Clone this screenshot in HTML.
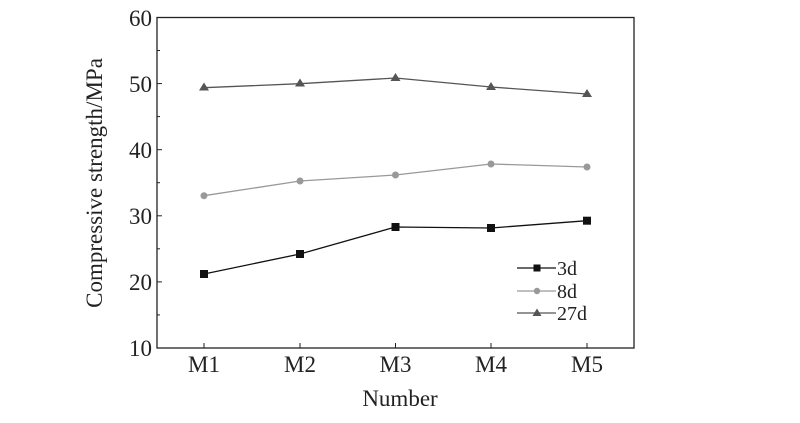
<!DOCTYPE html>
<html><head><style>body{margin:0;background:#fff}svg{display:block}</style></head><body>
<svg width="800" height="423" xmlns="http://www.w3.org/2000/svg" font-family="Liberation Serif, serif">
<rect width="800" height="423" fill="#fff"/>
<rect x="157" y="17.5" width="477" height="330.5" fill="none" stroke="#222" stroke-width="1.3"/>
<g stroke="#222" stroke-width="1">
<line x1="157" y1="83.6" x2="162" y2="83.6"/><line x1="157" y1="149.7" x2="162" y2="149.7"/><line x1="157" y1="215.8" x2="162" y2="215.8"/><line x1="157" y1="281.9" x2="162" y2="281.9"/>
<line x1="157" y1="50.5" x2="160" y2="50.5"/><line x1="157" y1="116.6" x2="160" y2="116.6"/><line x1="157" y1="182.7" x2="160" y2="182.7"/><line x1="157" y1="248.8" x2="160" y2="248.8"/><line x1="157" y1="314.9" x2="160" y2="314.9"/>
<line x1="204" y1="348" x2="204" y2="343"/><line x1="300" y1="348" x2="300" y2="343"/><line x1="395.5" y1="348" x2="395.5" y2="343"/><line x1="491" y1="348" x2="491" y2="343"/><line x1="587" y1="348" x2="587" y2="343"/>
</g>
<g font-size="23" fill="#222" text-anchor="end">
<text x="152" y="26">60</text><text x="152" y="92">50</text><text x="152" y="158">40</text><text x="152" y="224">30</text><text x="152" y="290">20</text><text x="152" y="356">10</text>
</g>
<g font-size="23" fill="#222" text-anchor="middle">
<text x="204" y="372">M1</text><text x="300" y="372">M2</text><text x="395.5" y="372">M3</text><text x="491" y="372">M4</text><text x="587" y="372">M5</text>
<text x="400" y="406">Number</text>
<text transform="translate(102,183) rotate(-90)">Compressive strength/MPa</text>
</g>
<polyline points="204,87.7 300,83.7 395.5,78 491,87 587,94" fill="none" stroke="#555" stroke-width="1.3"/>
<polyline points="204,195.7 300,181 395.5,175 491,164 587,167" fill="none" stroke="#999" stroke-width="1.3"/>
<polyline points="204,274 300,254 395.5,227 491,228 587,220.7" fill="none" stroke="#111" stroke-width="1.3"/>
<g fill="#555">
<path d="M204,82.5l5,8h-10z"/><path d="M300,78.5l5,8h-10z"/><path d="M395.5,73l5,8h-10z"/><path d="M491,82l5,8h-10z"/><path d="M587,89l5,8h-10z"/>
</g>
<g fill="#999"><circle cx="204" cy="195.7" r="3.5"/><circle cx="300" cy="181" r="3.5"/><circle cx="395.5" cy="175" r="3.5"/><circle cx="491" cy="164" r="3.5"/><circle cx="587" cy="167" r="3.5"/></g>
<g fill="#111"><rect x="200" y="270" width="8" height="8"/><rect x="296" y="250" width="8" height="8"/><rect x="391.5" y="223" width="8" height="8"/><rect x="487" y="224" width="8" height="8"/><rect x="583" y="216.7" width="8" height="8"/></g>
<line x1="517" y1="268" x2="556" y2="268" stroke="#111" stroke-width="1.3"/><rect x="533.5" y="264.5" width="7" height="7" fill="#111"/>
<line x1="517" y1="291" x2="556" y2="291" stroke="#999" stroke-width="1.3"/><circle cx="537" cy="291" r="3.2" fill="#999"/>
<line x1="517" y1="313" x2="556" y2="313" stroke="#555" stroke-width="1.3"/><path d="M537,308.5l4.5,7.5h-9z" fill="#555"/>
<g font-size="20" fill="#222"><text x="557" y="275">3d</text><text x="557" y="298">8d</text><text x="557" y="320">27d</text></g>
</svg>
</body></html>
